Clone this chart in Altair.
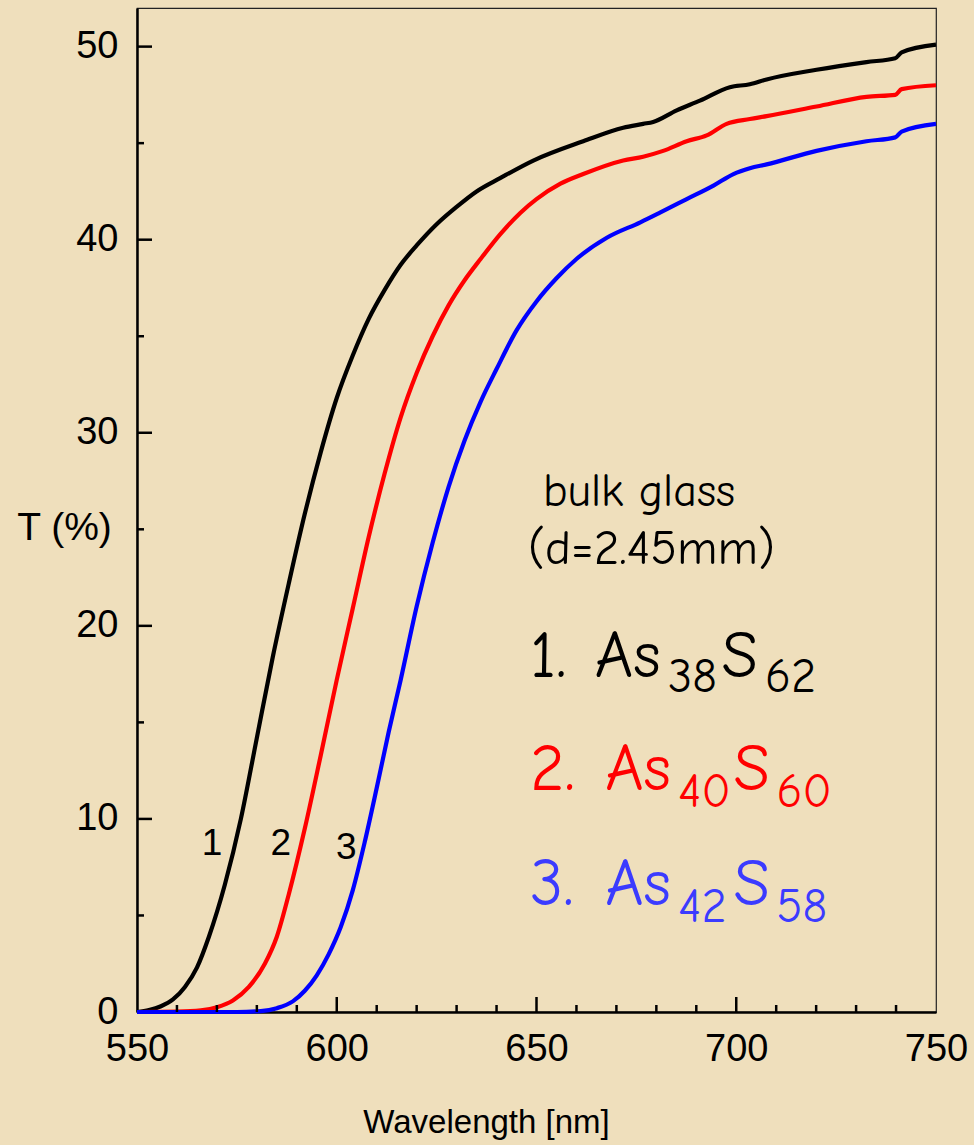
import altair as alt
import pandas as pd

# Transmission spectra of bulk As-S glasses (d = 2.45 mm)
wl_1 = [550, 553, 556, 559, 562, 565, 568, 572, 576, 580, 584, 588, 592, 596,
        600, 604, 608, 612, 616, 620, 625, 630, 635, 641, 649.2, 661.7, 671.7,
        676.7, 679.2, 685.1, 690.9, 698.4, 703.4, 707.6, 720.1, 732.6, 739.8,
        741.4, 750]
t_1 = [0.0, 0.1, 0.3, 0.65, 1.3, 2.3, 3.9, 6.6, 10.0, 14.2, 18.4, 22.2, 25.8, 29.0,
       31.8, 34.0, 35.9, 37.4, 38.7, 39.7, 40.8, 41.7, 42.5, 43.2, 44.1, 45.1, 45.8,
       46.0, 46.1, 46.7, 47.2, 47.9, 48.05, 48.3, 48.8, 49.2, 49.4,
       49.7, 50.1]

wl_2 = [550, 560, 566, 570, 574, 578, 582, 585, 588, 592, 596, 600, 604, 608,
        612, 616, 620, 624, 628, 632, 636, 641, 646, 650, 656, 661.7, 671.7,
        676.7, 681.7, 687.6, 692.6, 697.6, 703.4, 707.6, 720.1, 732.6, 739.8,
        741.4, 750]
t_2 = [0.0, 0.02, 0.08, 0.25, 0.6, 1.3, 2.5, 3.9, 6.1, 9.5, 13.3, 17.2, 20.9, 24.6,
       27.9, 30.8, 33.1, 35.0, 36.6, 37.9, 39.0, 40.3, 41.4, 42.1, 42.9, 43.4, 44.1,
       44.3, 44.6, 45.1, 45.4, 46.0, 46.25, 46.4, 46.9, 47.4, 47.5,
       47.8, 48.0]

wl_3 = [550, 575, 581, 585, 589, 592, 595, 598, 601, 604, 607, 610, 613, 616,
        620, 624, 628, 632, 636, 640, 645, 650, 655, 660, 667.6, 676.0, 680.9,
        687.6, 694.3, 699.3, 703.4, 707.6, 720.1, 732.6, 739.8, 741.4, 750]
t_3 = [0.0, 0.0, 0.05, 0.2, 0.55, 1.1, 1.9, 3.0, 4.4, 6.3, 8.8, 11.6, 14.5, 17.2,
       21.0, 24.3, 27.2, 29.6, 31.6, 33.3, 35.3, 36.8, 38.0, 39.0, 40.1, 40.9, 41.4,
       42.1, 42.8, 43.4, 43.7, 43.9, 44.6, 45.1, 45.3, 45.6, 46.0]

series_ids = ["1", "2", "3"]
series_colors = ["#000000", "#FF0000", "#0000FF"]

x_labels = [550, 600, 650, 700, 750]
y_labels = [0, 10, 20, 30, 40, 50]
x_major_ticks = [600, 650, 700]
x_minor_ticks = [560, 570, 580, 590, 610, 620, 630, 640, 660, 670, 680, 690,
                 710, 720, 730, 740]
y_major_ticks = [10, 20, 30, 40, 50]
y_minor_ticks = [5, 15, 25, 35, 45]

W, H = 799, 1004
BG = "#EFDFBC"
AXIS_FONT = "Liberation Sans"
HAND_FONT = "Comic Sans MS, Comic Neue, Open Sans, sans-serif"

rows = []
for sid, wls, ts in zip(series_ids, [wl_1, wl_2, wl_3], [t_1, t_2, t_3]):
    for w, t in zip(wls, ts):
        rows.append({"series": sid, "wl": w, "T": t})
spectra = pd.DataFrame(rows)

x_scale = alt.Scale(domain=[550, 750], nice=False, zero=False)
y_scale = alt.Scale(domain=[0, 52], nice=False)

x_axis = alt.Axis(
    values=x_labels, ticks=False, tickSize=0, grid=False, labelFlush=False,
    labelFont=AXIS_FONT, labelFontSize=38, labelColor="black", labelPadding=18,
    domainColor="black", domainWidth=2.5,
    title="Wavelength [nm]", titleFont=AXIS_FONT, titleFontSize=33,
    titleFontWeight="normal", titleColor="black",
    titleX=349, titleY=120, titleAlign="center", titleBaseline="alphabetic")
y_axis = alt.Axis(
    values=y_labels, ticks=False, tickSize=0, grid=False,
    labelFont=AXIS_FONT, labelFontSize=38, labelColor="black", labelPadding=19,
    domainColor="black", domainWidth=2.5,
    title="T (%)", titleFont=AXIS_FONT, titleFontSize=39,
    titleFontWeight="normal", titleColor="black", titleAngle=0,
    titleX=-73, titleY=519, titleAlign="center", titleBaseline="middle")


def X(field):
    return alt.X(field, scale=x_scale, axis=x_axis)


def Y(field):
    return alt.Y(field, scale=y_scale, axis=y_axis)


lines = alt.Chart(spectra).mark_line(strokeWidth=4.2, interpolate="monotone").encode(
    x=X("wl:Q"),
    y=Y("T:Q"),
    color=alt.Color("series:N", scale=alt.Scale(domain=series_ids, range=series_colors),
                    legend=None),
    detail="series:N",
)


# inward-pointing tick marks
def x_ticks(vals, length):
    return alt.Chart(pd.DataFrame({"v": vals})).mark_rule(
        color="black", strokeWidth=2.5).encode(
        x=X("v:Q"), y=alt.value(H), y2=alt.value(H - length))


def y_ticks(vals, length):
    return alt.Chart(pd.DataFrame({"v": vals})).mark_rule(
        color="black", strokeWidth=2.5).encode(
        y=Y("v:Q"), x=alt.value(0), x2=alt.value(length))


# curve numbers next to the absorption edges
curve_tags = pd.DataFrame({
    "txt": ["1", "2", "3"],
    "wl": [568.8, 586.0, 602.4],
    "T": [8.13, 8.13, 7.95],
})
tags = alt.Chart(curve_tags).mark_text(
    font=AXIS_FONT, fontSize=37, color="black", align="center", baseline="alphabetic"
).encode(x=X("wl:Q"), y=Y("T:Q"), text="txt:N")

# sample description and composition labels (pieces with subscripts)
notes = pd.DataFrame({
    "txt": ["bulk glass", "(d=2.45mm)"],
    "wl": [651.6, 647.9],
    "T": [26.2, 23.2],
    "fs": [46, 49],
})
note_marks = alt.Chart(notes).mark_text(
    font=HAND_FONT, color="black", align="left", baseline="alphabetic"
).encode(x=X("wl:Q"), y=Y("T:Q"),
         size=alt.Size("fs:Q", scale=None), text="txt:N")

formula = pd.DataFrame({
    "txt": ["1.", "As", "38", "S", "62",
            "2.", "As", "40", "S", "60",
            "3.", "As", "42", "S", "58"],
    "wl": [648.4, 664.6, 682.9, 696.3, 707.2,
           648.4, 667.2, 685.5, 699.3, 710.1,
           648.4, 667.2, 685.5, 699.3, 710.1],
    "T": [17.36, 17.36, 16.58, 17.36, 16.58,
          11.50, 11.50, 10.64, 11.50, 10.64,
          5.54, 5.54, 4.68, 5.54, 4.68],
    "fs": [66, 66, 48, 66, 48] * 3,
    "col": ["#000000"] * 5 + ["#FF0000"] * 5 + ["#3B3BFF"] * 5,
})
formula_marks = alt.Chart(formula).mark_text(
    font=HAND_FONT, align="left", baseline="alphabetic"
).encode(x=X("wl:Q"), y=Y("T:Q"),
         size=alt.Size("fs:Q", scale=None),
         color=alt.Color("col:N", scale=None), text="txt:N")

chart = alt.layer(
    lines,
    x_ticks(x_major_ticks, 15), x_ticks(x_minor_ticks, 7),
    y_ticks(y_major_ticks, 15), y_ticks(y_minor_ticks, 7),
    tags, note_marks, formula_marks,
).resolve_scale(color="independent").properties(
    width=W, height=H,
    padding={"left": 137, "top": 8, "right": 38, "bottom": 133},
    autosize=alt.AutoSizeParams(type="none"),
    background=BG,
).configure_view(stroke="#222222", strokeWidth=1.2, fill=BG)

chart.save("out.html", embed_options={"renderer": "svg", "actions": False})
